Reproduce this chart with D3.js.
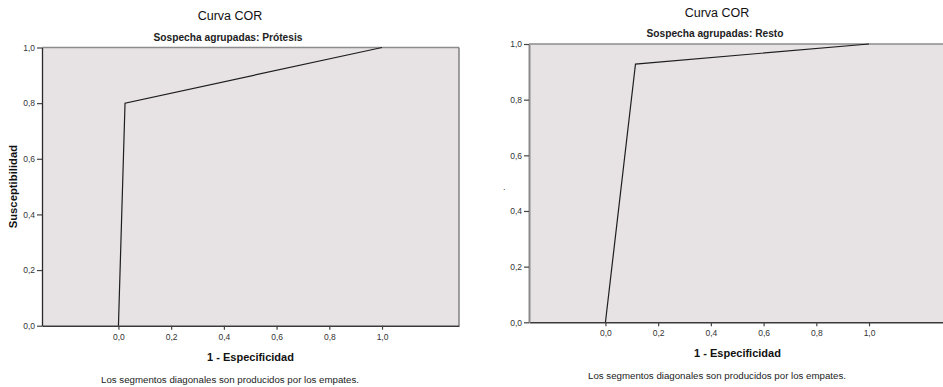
<!DOCTYPE html>
<html>
<head>
<meta charset="utf-8">
<script src="https://cdn.jsdelivr.net/npm/d3@7"></script>
<style>
  html, body { margin: 0; padding: 0; background: #fff; }
  svg { display: block; font-family: "Liberation Sans", Arial, sans-serif; }
</style>
</head>
<body>
<svg id="chart" width="943" height="387"></svg>
<script>
// ---- Data ----
const chartTitle = "Curva COR";
const subtitles = ["Sospecha agrupadas: Prótesis", "Sospecha agrupadas: Resto"];
const xAxisTitle = "1 - Especificidad";
const yAxisTitle = "Susceptibilidad";
const footnote = "Los segmentos diagonales son producidos por los empates.";
const xTickValues = [0, 0.2, 0.4, 0.6, 0.8, 1.0];
const yTickValues = [0, 0.2, 0.4, 0.6, 0.8, 1.0];
const protesisFPR = [0, 0.025, 1.0];
const protesisTPR = [0, 0.8, 1.0];
const restoFPR = [0, 0.114, 1.0];
const restoTPR = [0, 0.928, 1.0];

// ---- Layout ----
const panels = [
  { left: 42, right: 459, top: 47.5, bottom: 325.7, fpr: protesisFPR, tpr: protesisTPR,
    sub: subtitles[0], yLabel: true, leftAxisColor: "#2a2a2a", leftAxisWidth: 1.3, rightBorder: true },
  { left: 529, right: 946, top: 44, bottom: 322.3, fpr: restoFPR, tpr: restoTPR,
    sub: subtitles[1], yLabel: false, leftAxisColor: "#8a8a8a", leftAxisWidth: 2, rightBorder: false }
];

const svg = d3.select("#chart");
const fmt = v => d3.format(".1f")(v).replace(".", ",");

panels.forEach(p => {
  const x = d3.scaleLinear().domain([-0.29, 1.292]).range([p.left, p.right]);
  const y = d3.scaleLinear().domain([0, 1]).range([p.bottom, p.top]);
  const g = svg.append("g");

  // plot background
  g.append("rect")
    .attr("x", p.left).attr("y", p.top)
    .attr("width", p.right - p.left).attr("height", p.bottom - p.top)
    .attr("fill", "#e7e3e5");

  // top border
  g.append("line").attr("x1", p.left).attr("x2", p.right)
    .attr("y1", p.top).attr("y2", p.top)
    .attr("stroke", "#8c8c8c").attr("stroke-width", 1.6);
  if (p.rightBorder) {
    g.append("line").attr("x1", p.right).attr("x2", p.right)
      .attr("y1", p.top).attr("y2", p.bottom)
      .attr("stroke", "#7a7a7a").attr("stroke-width", 1.4);
  }

  // x axis
  const xAxis = d3.axisBottom(x).tickValues(xTickValues).tickFormat(fmt)
    .tickSizeInner(4).tickSizeOuter(0).tickPadding(4);
  const gx = g.append("g").attr("transform", `translate(0,${p.bottom})`).call(xAxis);
  gx.select(".domain").attr("stroke", "#3a3a3a").attr("stroke-width", 1.6);
  gx.selectAll(".tick line").attr("stroke", "#444").attr("stroke-width", 1.2);
  gx.selectAll(".tick text").attr("font-size", 8.5).attr("fill", "#333")
    .attr("font-family", "Liberation Sans, Arial, sans-serif");

  // y axis
  const yAxis = d3.axisLeft(y).tickValues(yTickValues).tickFormat(fmt)
    .tickSizeInner(5).tickSizeOuter(0).tickPadding(2);
  const gy = g.append("g").attr("transform", `translate(${p.left},0)`).call(yAxis);
  gy.select(".domain").attr("stroke", p.leftAxisColor).attr("stroke-width", p.leftAxisWidth);
  gy.selectAll(".tick line").attr("stroke", "#444").attr("stroke-width", 1.2);
  gy.selectAll(".tick text").attr("font-size", 8.5).attr("fill", "#333")
    .attr("font-family", "Liberation Sans, Arial, sans-serif");

  // ROC curve
  const pts = p.fpr.map((d, i) => [d, p.tpr[i]]);
  g.append("path").datum(pts)
    .attr("d", d3.line().x(d => x(d[0])).y(d => y(d[1])))
    .attr("fill", "none").attr("stroke", "#1e1e1e").attr("stroke-width", 1.2);

  // titles
  const cx = p.left + 188;
  g.append("text").attr("x", cx).attr("y", p.top - 27.5)
    .attr("text-anchor", "middle").attr("font-size", 12.5).attr("fill", "#111")
    .text(chartTitle);
  g.append("text").attr("x", p.left + 186).attr("y", p.top - 7)
    .attr("text-anchor", "middle").attr("font-size", 10.2).attr("font-weight", "bold")
    .attr("fill", "#222").text(p.sub);

  g.append("text").attr("x", (p.left + p.right) / 2).attr("y", p.bottom + 35)
    .attr("text-anchor", "middle").attr("font-size", 11).attr("font-weight", "bold")
    .attr("fill", "#111").text(xAxisTitle);

  g.append("text").attr("x", p.left + 188).attr("y", p.bottom + 57)
    .attr("text-anchor", "middle").attr("font-size", 9.7)
    .attr("fill", "#222").text(footnote);

  if (p.yLabel) {
    g.append("text")
      .attr("transform", `translate(17,${(p.top + p.bottom) / 2}) rotate(-90)`)
      .attr("text-anchor", "middle").attr("font-size", 11.3).attr("font-weight", "bold")
      .attr("fill", "#111").text(yAxisTitle);
  } else {
    g.append("text").attr("x", p.left - 26).attr("y", 190)
      .attr("font-size", 9).attr("fill", "#333").text(".");
  }
});
</script>
</body>
</html>
